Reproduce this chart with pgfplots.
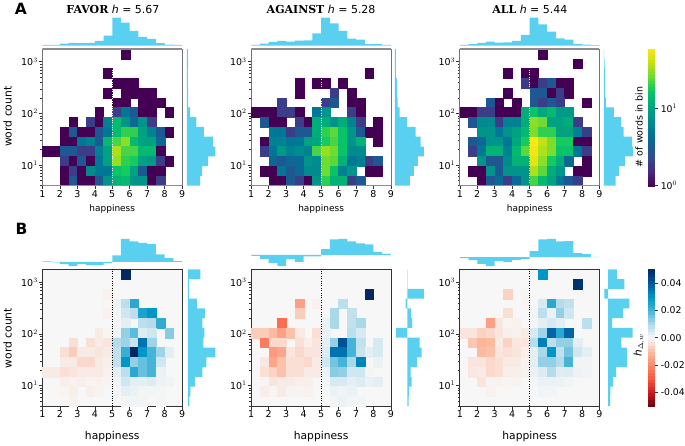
\documentclass[border=0pt]{standalone}
\usepackage{fontspec}
\setmainfont{DejaVu Sans}
\newfontfamily\serf{DejaVu Serif}
\usepackage{pgfplots}
\usepackage{pgfplotstable}
\pgfplotsset{compat=1.18}
\definecolor{hc}{RGB}{90,208,240}
\definecolor{bgc}{RGB}{247,247,247}
\pgfplotsset{
  /pgfplots/heatpanel/.style={scale only axis, width=140pt, height=137pt, anchor=south west,
    xmin=1, xmax=9, ymin=0, ymax=14,
    xtick={1,2,3,4,5,6,7,8,9}, xticklabels={1,2,3,4,5,6,7,8,9},
    ytick={2.113,7.396,12.679}, yticklabels={10$^{1}$,10$^{2}$,10$^{3}$},
    minor ytick={0.01,0.523,0.941,1.296,1.601,1.870,3.703,4.633,5.293,5.806,6.224,6.579,6.884,7.153,8.986,9.916,10.576,11.089,11.507,11.862,12.167,12.436},
    xtick pos=bottom, ytick pos=left, tick align=outside,
    major tick length=3.5pt, minor tick length=2pt,
    tick style={black!80, line width=0.6pt},
    minor tick style={black!80, line width=0.4pt},
    ticklabel style={font=\fontsize{9.5}{11}\selectfont, inner sep=1pt},
    axis on top},
  /pgfplots/mhist/.style={scale only axis, anchor=south west, hide axis},
  /pgfplots/cellmark/.style={scatter, only marks, mark=square*, mark size=1pt, scatter/use mapped color={draw=mapped color,fill=mapped color}, mark options={xscale=4.375, yscale=4.893, line width=0.15pt}},
}
\pgfplotsset{
  colormap={vw}{rgb255=(68,1,84) rgb255=(72,40,125) rgb255=(55,70,140) rgb255=(20,95,150) rgb255=(0,120,150) rgb255=(0,145,140) rgb255=(0,170,125) rgb255=(10,200,100) rgb255=(110,220,50) rgb255=(190,225,20) rgb255=(253,231,20)}}
\pgfplotsset{
  colormap={dv}{rgb255=(103,0,13) rgb255=(203,24,29) rgb255=(250,85,60) rgb255=(251,133,103) rgb255=(252,187,161) rgb255=(247,247,247) rgb255=(180,220,235) rgb255=(70,180,215) rgb255=(0,150,200) rgb255=(0,90,160) rgb255=(3,40,100)}}
% heat A: #1 x, #2 table
\newcommand\heatA[2]{%
\begin{axis}[heatpanel, at={(#1pt,260pt)}, colormap name=vw, point meta min=0, point meta max=1.7634,
  axis line style={black!55, line width=0.7pt}]
\addplot[cellmark, point meta={log10(\thisrow{v})}] table[x=x, y=y] {#2};
\end{axis}
\begin{axis}[mhist, at={(#1pt,260pt)}, width=140pt, height=137pt, xmin=1, xmax=9, ymin=0, ymax=14]
\addplot[white, dash pattern=on 1pt off 1.4pt, line width=1pt] coordinates {(5,0) (5,14)};
\draw[black!45, line width=1.4pt] (rel axis cs:0,0) -- (rel axis cs:1,0);
\draw[black!45, line width=1.4pt] (rel axis cs:0,1) -- (rel axis cs:1,1);
\end{axis}}
% heat B
\newcommand\heatB[2]{%
\begin{axis}[heatpanel, at={(#1pt,39pt)}, colormap name=dv, point meta min=-50, point meta max=50,
  axis background/.style={fill=bgc}, axis line style={black!80, line width=0.7pt}]
\addplot[cellmark, point meta={\thisrow{v}}] table[x=x, y=y] {#2};
\end{axis}
\begin{axis}[mhist, at={(#1pt,39pt)}, width=140pt, height=137pt, xmin=1, xmax=9, ymin=0, ymax=14]
\addplot[black, dash pattern=on 1pt off 1.4pt, line width=1pt] coordinates {(5,0) (5,14)};
\end{axis}}
% top histogram: x, Y, height, ymin, ymax, coordinates
\newcommand\tophist[6]{%
\begin{axis}[mhist, at={(#1pt,#2pt)}, width=140pt, height=#3pt, xmin=1, xmax=9, ymin=#4, ymax=#5]
\addplot[ybar interval, fill=hc, draw=none] coordinates {#6};
\end{axis}}
% side histogram: x, Y, width, xmin, xmax, coordinates
\newcommand\sidehist[6]{%
\begin{axis}[mhist, at={(#1pt,#2pt)}, width=#3pt, height=137pt, xmin=#4, xmax=#5, ymin=0, ymax=14]
\addplot[xbar interval, fill=hc, draw=none] coordinates {#6};
\end{axis}}

\pgfplotstableread{
x y v
5.75 13.5 1
4.75 11.5 1
5.25 10.5 1
5.75 10.5 1
6.25 10.5 1
4.75 9.5 1
5.75 9.5 1
6.25 9.5 1
6.75 9.5 1
7.25 9.5 1
5.25 8.5 1
5.75 8.5 1
6.75 8.5 1
7.25 8.5 1
7.75 8.5 1
4.25 7.5 1
5.25 7.5 2
5.75 7.5 5
6.25 7.5 3
6.75 7.5 1
7.25 7.5 1
8.25 7.5 1
2.75 6.5 1
3.75 6.5 2
4.25 6.5 1
4.75 6.5 6
5.25 6.5 14
5.75 6.5 8
6.25 6.5 4
6.75 6.5 8
7.25 6.5 2
2.25 5.5 1
2.75 5.5 3
3.25 5.5 1
3.75 5.5 1
4.25 5.5 3
4.75 5.5 5
5.25 5.5 14
5.75 5.5 20
6.25 5.5 20
6.75 5.5 10
7.25 5.5 6
7.75 5.5 3
8.25 5.5 1
2.25 4.5 1
2.75 4.5 1
3.25 4.5 5
3.75 4.5 6
4.25 4.5 3
4.75 4.5 14
5.25 4.5 22
5.75 4.5 30
6.25 4.5 14
6.75 4.5 10
7.25 4.5 10
7.75 4.5 4
1.25 3.5 1
1.75 3.5 1
2.25 3.5 3
2.75 3.5 3
3.25 3.5 2
3.75 3.5 2
4.25 3.5 6
4.75 3.5 10
5.25 3.5 35
5.75 3.5 22
6.25 3.5 22
6.75 3.5 14
7.25 3.5 14
7.75 3.5 1
2.25 2.5 2
2.75 2.5 1
3.25 2.5 3
3.75 2.5 1
4.25 2.5 5
4.75 2.5 10
5.25 2.5 32
5.75 2.5 20
6.25 2.5 18
6.75 2.5 10
7.25 2.5 9
7.75 2.5 2
8.25 2.5 1
2.25 1.5 1
2.75 1.5 2
3.25 1.5 1
3.75 1.5 7
4.25 1.5 5
4.75 1.5 5
5.25 1.5 16
5.75 1.5 18
6.25 1.5 10
6.75 1.5 3
7.25 1.5 1
7.75 1.5 1
2.25 0.5 1
2.75 0.5 3
3.25 0.5 1
3.75 0.5 1
4.25 0.5 3
4.75 0.5 8
5.25 0.5 13
5.75 0.5 14
6.25 0.5 8
6.75 0.5 8
7.25 0.5 1
7.75 0.5 2
}\tFavorA
\pgfplotstableread{
x y v
7.75 11.5 1
3.75 10.5 1
4.75 10.5 1
5.25 10.5 1
6.25 10.5 1
3.75 9.5 1
5.75 9.5 2
6.75 9.5 1
2.75 8.5 2
5.25 8.5 2
5.75 8.5 3
6.75 8.5 1
7.25 8.5 1
1.25 7.5 1
1.75 7.5 1
2.25 7.5 1
2.75 7.5 2
3.25 7.5 2
3.75 7.5 1
4.75 7.5 5
5.25 7.5 8
6.75 7.5 2
7.25 7.5 1
1.75 6.5 3
2.25 6.5 1
2.75 6.5 1
3.75 6.5 2
4.25 6.5 1
4.75 6.5 12
5.25 6.5 12
5.75 6.5 8
6.25 6.5 12
6.75 6.5 6
7.25 6.5 2
8.25 6.5 1
2.25 5.5 5
2.75 5.5 5
3.25 5.5 2
3.75 5.5 3
4.25 5.5 3
4.75 5.5 12
5.25 5.5 20
5.75 5.5 24
6.25 5.5 16
6.75 5.5 8
7.25 5.5 3
7.75 5.5 1
8.25 5.5 1
1.75 4.5 1
2.25 4.5 6
2.75 4.5 6
3.25 4.5 5
3.75 4.5 5
4.25 4.5 10
4.75 4.5 11
5.25 4.5 18
5.75 4.5 22
6.25 4.5 16
6.75 4.5 8
7.25 4.5 13
8.25 4.5 1
1.75 3.5 2
2.25 3.5 5
2.75 3.5 9
3.25 3.5 6
3.75 3.5 7
4.25 3.5 6
4.75 3.5 22
5.25 3.5 32
5.75 3.5 26
6.25 3.5 16
6.75 3.5 7
7.25 3.5 7
2.25 2.5 4
2.75 2.5 3
3.25 2.5 4
3.75 2.5 4
4.25 2.5 8
4.75 2.5 7
5.25 2.5 26
5.75 2.5 24
6.25 2.5 13
6.75 2.5 5
7.25 2.5 6
7.75 2.5 2
8.25 2.5 3
1.75 1.5 1
2.25 1.5 1
2.75 1.5 5
3.25 1.5 3
3.75 1.5 4
4.25 1.5 7
4.75 1.5 7
5.25 1.5 26
5.75 1.5 16
6.25 1.5 6
6.75 1.5 8
7.75 1.5 1
8.25 1.5 1
2.25 0.5 1
2.75 0.5 1
3.25 0.5 3
3.75 0.5 2
4.25 0.5 1
4.75 0.5 8
5.25 0.5 20
5.75 0.5 13
6.25 0.5 13
6.75 0.5 2
7.25 0.5 3
}\tAgainstA
\pgfplotstableread{
x y v
5.75 13.5 1
7.75 12.5 1
3.75 11.5 1
4.75 11.5 1
5.25 11.5 1
4.75 10.5 2
5.25 10.5 1
5.75 10.5 2
6.25 10.5 3
6.75 10.5 1
7.25 10.5 1
3.75 9.5 1
5.25 9.5 3
5.75 9.5 3
6.25 9.5 1
6.75 9.5 2
7.25 9.5 1
2.75 8.5 3
3.25 8.5 1
4.25 8.5 1
5.25 8.5 3
5.75 8.5 2
6.25 8.5 3
6.75 8.5 2
8.25 8.5 1
1.25 7.5 1
1.75 7.5 1
2.25 7.5 2
2.75 7.5 2
3.25 7.5 1
3.75 7.5 1
4.25 7.5 1
4.75 7.5 12
5.25 7.5 16
5.75 7.5 11
6.25 7.5 14
6.75 7.5 9
7.25 7.5 9
1.75 6.5 3
2.25 6.5 7
2.75 6.5 7
3.25 6.5 2
3.75 6.5 6
4.25 6.5 6
4.75 6.5 12
5.25 6.5 30
5.75 6.5 26
6.25 6.5 10
6.75 6.5 10
7.25 6.5 12
7.75 6.5 2
2.25 5.5 8
2.75 5.5 8
3.25 5.5 5
3.75 5.5 8
4.25 5.5 10
4.75 5.5 14
5.25 5.5 28
5.75 5.5 20
6.25 5.5 20
6.75 5.5 10
7.25 5.5 10
7.75 5.5 6
8.25 5.5 2
1.75 4.5 3
2.25 4.5 4
2.75 4.5 8
3.25 4.5 8
3.75 4.5 5
4.25 4.5 11
4.75 4.5 18
5.25 4.5 58
5.75 4.5 40
6.25 4.5 28
6.75 4.5 18
7.25 4.5 18
7.75 4.5 1
8.25 4.5 1
1.75 3.5 2
2.25 3.5 5
2.75 3.5 13
3.25 3.5 13
3.75 3.5 6
4.25 3.5 14
4.75 3.5 24
5.25 3.5 55
5.75 3.5 36
6.25 3.5 28
6.75 3.5 16
7.25 3.5 16
7.75 3.5 5
8.25 3.5 2
2.25 2.5 8
2.75 2.5 3
3.25 2.5 3
3.75 2.5 7
4.25 2.5 13
4.75 2.5 13
5.25 2.5 50
5.75 2.5 30
6.25 2.5 18
6.75 2.5 12
7.25 2.5 4
8.25 2.5 1
1.75 1.5 1
2.25 1.5 1
2.75 1.5 8
3.25 1.5 3
3.75 1.5 8
4.25 1.5 8
4.75 1.5 8
5.25 1.5 36
5.75 1.5 24
6.25 1.5 12
6.75 1.5 8
7.75 1.5 1
8.25 1.5 1
2.25 0.5 1
2.75 0.5 3
3.25 0.5 4
3.75 0.5 2
4.25 0.5 4
4.75 0.5 8
5.25 0.5 22
5.75 0.5 14
6.25 0.5 10
6.75 0.5 5
7.25 0.5 3
7.75 0.5 2
}\tAllA
\pgfplotstableread{
x y v
5.75 13.5 50
4.75 11.5 -1
5.25 10.5 1.5
5.75 10.5 9
6.25 10.5 24
4.75 9.5 -1
5.25 9.5 0.5
5.75 9.5 6
6.25 9.5 9
6.75 9.5 26
7.25 9.5 30
5.25 8.5 0.5
5.75 8.5 3
6.75 8.5 9
7.25 8.5 10
7.75 8.5 23
4.25 7.5 -2
4.75 7.5 -0.5
5.25 7.5 1
5.75 7.5 13
6.25 7.5 18
6.75 7.5 4
7.25 7.5 6
8.25 7.5 14
2.75 6.5 -4
3.75 6.5 -4
4.25 6.5 -2
4.75 6.5 -3
5.25 6.5 10
5.75 6.5 12
6.25 6.5 7
6.75 6.5 36
7.25 6.5 12
2.25 5.5 -4
2.75 5.5 -7
3.25 5.5 -2
3.75 5.5 -2
4.25 5.5 -3
4.75 5.5 -2
5.25 5.5 8
5.75 5.5 22
6.25 5.5 50
6.75 5.5 30
7.25 5.5 20
7.75 5.5 12
8.25 5.5 3
2.25 4.5 -2
2.75 4.5 -2
3.25 4.5 -5
3.75 4.5 -5
4.25 4.5 -2
4.75 4.5 -1.5
5.25 4.5 8
5.75 4.5 30
6.25 4.5 13
6.75 4.5 17
7.25 4.5 20
7.75 4.5 6
1.25 3.5 -2
1.75 3.5 -2
2.25 3.5 -4
2.75 3.5 -3
3.25 3.5 -2
3.75 3.5 -2
4.25 3.5 -2
4.75 3.5 -1
5.25 3.5 3
5.75 3.5 9
6.25 3.5 24
6.75 3.5 17
7.25 3.5 20
7.75 3.5 2
2.25 2.5 -1.5
2.75 2.5 -1
3.25 2.5 -1.5
3.75 2.5 -0.5
4.25 2.5 -1
4.75 2.5 -0.5
5.25 2.5 1
5.75 2.5 6
6.25 2.5 3
6.75 2.5 3
7.25 2.5 4
7.75 2.5 1.5
8.25 2.5 1
2.25 1.5 -0.5
2.75 1.5 -1.5
3.75 1.5 -1.5
4.25 1.5 -0.7
5.25 1.5 0.5
5.75 1.5 3
6.25 1.5 2
6.75 1.5 0.7
7.25 1.5 0.7
7.75 1.5 0.5
2.75 0.5 -1
5.75 0.5 0.7
6.25 0.5 1
6.75 0.5 0.7
7.75 0.5 0.5
}\tFavorB
\pgfplotstableread{
x y v
7.75 11.5 50
3.75 10.5 -15
4.75 10.5 -1
6.25 10.5 9
3.75 9.5 -7
5.75 9.5 11
6.75 9.5 8
2.75 8.5 -25
5.25 8.5 2
5.75 8.5 11
6.75 8.5 8
7.25 8.5 11
1.25 7.5 -7
1.75 7.5 -7
2.25 7.5 -10
2.75 7.5 -15
3.25 7.5 -9
3.75 7.5 -2
4.75 7.5 -4
5.25 7.5 2
6.75 7.5 9
7.25 7.5 5
1.75 6.5 -22
2.25 6.5 -5
2.75 6.5 -5
3.75 6.5 -4
4.25 6.5 -1.5
4.75 6.5 -3
5.25 6.5 3
5.75 6.5 13
6.25 6.5 42
6.75 6.5 20
7.25 6.5 8
8.25 6.5 5
2.25 5.5 -16
2.75 5.5 -14
3.25 5.5 -3
3.75 5.5 -5
4.25 5.5 -3
4.75 5.5 -3
5.25 5.5 4
5.75 5.5 36
6.25 5.5 36
6.75 5.5 20
7.25 5.5 7
7.75 5.5 3
8.25 5.5 5
1.75 4.5 -2.5
2.25 4.5 -14
2.75 4.5 -9
3.25 4.5 -4
3.75 4.5 -4
4.25 4.5 -5
4.75 4.5 -2
5.25 4.5 6
5.75 4.5 16
6.25 4.5 20
6.75 4.5 11
7.25 4.5 33
8.25 4.5 2
1.75 3.5 -4
2.25 3.5 -6
2.75 3.5 -9
3.25 3.5 -4
3.75 3.5 -4
4.25 3.5 -2
4.75 3.5 -2
5.25 3.5 1.5
5.75 3.5 14
6.25 3.5 13
6.75 3.5 6
7.25 3.5 6
7.75 3.5 0.5
1.75 2.5 -0.5
2.25 2.5 -3
2.75 2.5 -2
3.25 2.5 -2
3.75 2.5 -1.5
4.25 2.5 -1.5
5.25 2.5 0.5
5.75 2.5 5
6.25 2.5 5
6.75 2.5 3
7.25 2.5 4
7.75 2.5 2
8.25 2.5 3
1.75 1.5 -1.5
2.25 1.5 -0.5
2.75 1.5 -2
3.25 1.5 -0.7
3.75 1.5 -0.7
4.25 1.5 -1
5.75 1.5 2
6.25 1.5 1
6.75 1.5 2
5.75 0.5 0.7
6.25 0.5 2
6.75 0.5 0.7
7.25 0.5 0.7
}\tAgainstB
\pgfplotstableread{
x y v
5.75 13.5 30
7.75 12.5 48
3.75 11.5 -6
4.75 11.5 -0.5
4.75 10.5 -0.5
5.75 10.5 5
6.25 10.5 24
6.75 10.5 10
7.25 10.5 8
3.75 9.5 -4
5.25 9.5 1
5.75 9.5 9
6.25 9.5 2
6.75 9.5 13
7.25 9.5 6
2.75 8.5 -15
3.25 8.5 -3
3.75 8.5 -0.5
4.25 8.5 -1
5.25 8.5 0.5
5.75 8.5 3
6.25 8.5 5
6.75 8.5 3
8.25 8.5 9
1.25 7.5 -3
1.75 7.5 -3
2.25 7.5 -6
2.75 7.5 -5
3.25 7.5 -3
3.75 7.5 -1.5
4.25 7.5 -0.8
4.75 7.5 -2
5.25 7.5 5
5.75 7.5 12
6.25 7.5 38
6.75 7.5 24
7.25 7.5 38
1.75 6.5 -8
2.25 6.5 -11
2.75 6.5 -10
3.25 6.5 -2
3.75 6.5 -6
4.25 6.5 -2.5
4.75 6.5 -3
5.25 6.5 10
5.75 6.5 34
6.25 6.5 9
6.75 6.5 13
7.25 6.5 13
7.75 6.5 3
2.25 5.5 -10
2.75 5.5 -9
3.25 5.5 -3
3.75 5.5 -4
4.25 5.5 -3
4.75 5.5 -1.5
5.25 5.5 3
5.75 5.5 11
6.25 5.5 30
6.75 5.5 8
7.25 5.5 16
7.75 5.5 6
8.25 5.5 3
1.75 4.5 -3
2.25 4.5 -3
2.75 4.5 -5
3.25 4.5 -4
3.75 4.5 -2
4.25 4.5 -2
4.75 4.5 -1
5.25 4.5 3
5.75 4.5 13
6.25 4.5 13
6.75 4.5 10
7.25 4.5 20
7.75 4.5 1
8.25 4.5 1
1.75 3.5 -2.5
2.25 3.5 -2
2.75 3.5 -5
3.25 3.5 -4
3.75 3.5 -1.5
4.25 3.5 -1.5
4.75 3.5 -1
5.25 3.5 2
5.75 3.5 4
6.25 3.5 10
6.75 3.5 3.5
7.25 3.5 4
7.75 3.5 1.5
8.25 3.5 1
2.25 2.5 -3
2.75 2.5 -0.7
3.25 2.5 -0.7
3.75 2.5 -0.5
4.25 2.5 -0.7
5.25 2.5 0.5
5.75 2.5 2
6.25 2.5 2
6.75 2.5 1.5
7.25 2.5 0.7
2.75 1.5 -1
5.75 1.5 1
6.25 1.5 0.8
}\tAllB

\begin{document}
\begin{tikzpicture}
\path (0pt,0pt) rectangle (685pt,445pt);
% Row A heat maps
\heatA{41}{\tFavorA}
\heatA{250.3}{\tAgainstA}
\heatA{459.3}{\tAllA}
% Row B heat maps
\heatB{41}{\tFavorB}
\heatB{250.3}{\tAgainstB}
\heatB{459.3}{\tAllB}
% Top histograms A
\tophist{41}{400.3}{28}{0}{84}{(1,2)(1.5,2)(2,6)(2.5,8)(3,7)(3.5,8)(4,14)(4.5,30)(5,84)(5.5,69)(6,44)(6.5,26)(7,20)(7.5,7)(8,3)(8.5,2)(9,0)}
\tophist{250.3}{400.3}{28}{0}{84}{(1,2)(1.5,6)(2,11)(2.5,14)(3,12)(3.5,15)(4,16)(4.5,37)(5,84)(5.5,67)(6,44)(6.5,21)(7,18)(7.5,4)(8,5)(8.5,2)(9,0)}
\tophist{459.3}{400.3}{28}{0}{84}{(1,2)(1.5,4)(2,8)(2.5,12)(3,9)(3.5,10)(4,14)(4.5,32)(5,84)(5.5,64)(6,42)(6.5,22)(7,18)(7.5,5)(8,3)(8.5,1)(9,0)}
% Side histograms A
\sidehist{185.7}{260}{29}{0}{87}{(40,0)(46,1)(64,2)(86,3)(78,4)(51,5)(29,6)(10,7)(4,8)(4,9)(3,10)(3,11)(4,12)(3,13)(0,14)}
\sidehist{394.3}{260}{29}{0}{87}{(45,0)(57,1)(69,2)(87,3)(77,4)(62,5)(36,6)(14,7)(8,8)(6,9)(6,10)(3,11)(3,12)(3,13)(0,14)}
\sidehist{603.7}{260}{29}{0}{87}{(35,0)(46,1)(63,2)(87,3)(85,4)(59,5)(52,6)(30,7)(6,8)(4,9)(4,10)(3,11)(2,12)(1,13)(0,14)}
% Top histograms B
\tophist{41}{179.3}{27.33}{-13}{69}{(1,1)(1.5,-2)(2,-7)(2.5,-13)(3,-7)(3.5,-10)(4,-9)(4.5,-4)(5,19)(5.5,69)(6,61)(6.5,57)(7,53)(7.5,22)(8,11)(8.5,2)(9,0)}
\tophist{250.3}{179.3}{27.33}{-34}{48}{(1,-3)(1.5,-12)(2,-24)(2.5,-34)(3,-13)(3.5,-21)(4,-5)(4.5,-5)(5,17)(5.5,46)(6,48)(6.5,40)(7,34)(7.5,31)(8,9)(8.5,3)(9,0)}
\tophist{459.3}{179.3}{27.33}{-27}{55}{(1,-3)(1.5,-9)(2,-20)(2.5,-27)(3,-12)(3.5,-15)(4,-8)(4.5,-5)(5,18)(5.5,53)(6,55)(6.5,47)(7,48)(7.5,12)(8,9)(8.5,1)(9,0)}
% Side histograms B
\sidehist{186.7}{39}{27.67}{0}{83}{(5,0)(8,1)(22,2)(44,3)(56,4)(83,5)(47,6)(50,7)(44,8)(51,9)(27,10)(3,11)(3,12)(38,13)(0,14)}
\sidehist{395.3}{39}{28}{-34}{50}{(4,0)(5,1)(13,2)(10,3)(29,4)(43,5)(37,6)(-34,7)(15,8)(12,9)(-5,10)(50,11)(1,12)(1,13)(0,14)}
\sidehist{604.3}{39}{28.33}{-11}{74}{(6,0)(7,1)(15,2)(24,3)(57,4)(56,5)(40,6)(74,7)(12,8)(45,9)(64,10)(-11,11)(49,12)(26,13)(0,14)}
% Colour bars
\begin{axis}[scale only axis, anchor=south west, at={(648.3pt,260pt)}, width=5.7pt, height=137pt,
  xmin=0, xmax=1, ymin=0, ymax=1.7634, xtick=\empty, ytick={0,1},
  colormap name=vw, point meta min=0, point meta max=1.7634,
  yticklabels={10$^{0}$,10$^{1}$}, ytick pos=right, yticklabel pos=right,
  tick align=outside, major tick length=4pt, tick style={black!80, line width=0.6pt},
  ticklabel style={font=\fontsize{9.3}{11}\selectfont, inner sep=0pt, xshift=2.5pt}, axis line style={black!80, line width=0.6pt}, axis on top]
\addplot[scatter, only marks, mark=square*, mark size=1pt, scatter/use mapped color={draw=mapped color,fill=mapped color}, mark options={xscale=3, yscale=1.7, line width=0.15pt}, point meta=y] coordinates {
(0.5,0.02)(0.5,0.06)(0.5,0.10)(0.5,0.14)(0.5,0.18)(0.5,0.22)(0.5,0.26)(0.5,0.30)(0.5,0.34)(0.5,0.38)(0.5,0.42)(0.5,0.46)(0.5,0.50)(0.5,0.54)(0.5,0.58)
(0.5,0.62)(0.5,0.66)(0.5,0.70)(0.5,0.74)(0.5,0.78)(0.5,0.82)(0.5,0.86)(0.5,0.90)(0.5,0.94)(0.5,0.98)(0.5,1.02)(0.5,1.06)(0.5,1.10)(0.5,1.14)(0.5,1.18)
(0.5,1.22)(0.5,1.26)(0.5,1.30)(0.5,1.34)(0.5,1.38)(0.5,1.42)(0.5,1.46)(0.5,1.50)(0.5,1.54)(0.5,1.58)(0.5,1.62)(0.5,1.66)(0.5,1.70)(0.5,1.74)};
\end{axis}
\begin{axis}[scale only axis, anchor=south west, at={(648.3pt,39pt)}, width=5.7pt, height=137pt,
  xmin=0, xmax=1, ymin=-0.05, ymax=0.05, xtick=\empty, ytick={-0.04,-0.02,0,0.02,0.04}, scaled y ticks=false,
  colormap name=dv, point meta min=-0.05, point meta max=0.05,
  yticklabels={-0.04,-0.02,0.00,0.02,0.04}, ytick pos=right, yticklabel pos=right,
  tick align=outside, major tick length=4pt, tick style={black!80, line width=0.6pt},
  ticklabel style={font=\fontsize{9.3}{11}\selectfont, inner sep=0pt, xshift=2.5pt}, axis line style={black!80, line width=0.6pt}, axis on top]
\addplot[scatter, only marks, mark=square*, mark size=1pt, scatter/use mapped color={draw=mapped color,fill=mapped color}, mark options={xscale=3, yscale=1.85, line width=0.15pt}, point meta=y] coordinates {
(0.5,-0.04875)(0.5,-0.04625)(0.5,-0.04375)(0.5,-0.04125)(0.5,-0.03875)(0.5,-0.03625)(0.5,-0.03375)(0.5,-0.03125)(0.5,-0.02875)(0.5,-0.02625)
(0.5,-0.02375)(0.5,-0.02125)(0.5,-0.01875)(0.5,-0.01625)(0.5,-0.01375)(0.5,-0.01125)(0.5,-0.00875)(0.5,-0.00625)(0.5,-0.00375)(0.5,-0.00125)
(0.5,0.00125)(0.5,0.00375)(0.5,0.00625)(0.5,0.00875)(0.5,0.01125)(0.5,0.01375)(0.5,0.01625)(0.5,0.01875)(0.5,0.02125)(0.5,0.02375)
(0.5,0.02625)(0.5,0.02875)(0.5,0.03125)(0.5,0.03375)(0.5,0.03625)(0.5,0.03875)(0.5,0.04125)(0.5,0.04375)(0.5,0.04625)(0.5,0.04875)};
\end{axis}
% Text
\node[font=\fontsize{15.5}{18}\selectfont\bfseries] at (19.5pt,437pt) {A};
\node[font=\fontsize{15.5}{18}\selectfont\bfseries] at (20pt,217pt) {B};
\node[font=\fontsize{11}{13}\selectfont] at (111.7pt,437pt) {{\serf\bfseries FAVOR} \textit{h} = 5.67};
\node[font=\fontsize{11}{13}\selectfont] at (320.3pt,437pt) {{\serf\bfseries AGAINST} \textit{h} = 5.28};
\node[font=\fontsize{11}{13}\selectfont] at (529.5pt,437pt) {{\serf\bfseries ALL} \textit{h} = 5.44};
\node[font=\fontsize{9}{11}\selectfont] at (111pt,236.5pt) {happiness};
\node[font=\fontsize{9}{11}\selectfont] at (320.3pt,236.5pt) {happiness};
\node[font=\fontsize{9}{11}\selectfont] at (529.3pt,236.5pt) {happiness};
\node[font=\fontsize{10.75}{13}\selectfont] at (111pt,8pt) {happiness};
\node[font=\fontsize{10.75}{13}\selectfont] at (320.3pt,8pt) {happiness};
\node[font=\fontsize{10.75}{13}\selectfont] at (529.3pt,8pt) {happiness};
\node[rotate=90, font=\fontsize{10.8}{13}\selectfont] at (6pt,329pt) {word count};
\node[rotate=90, font=\fontsize{10.8}{13}\selectfont] at (6pt,107pt) {word count};
\node[rotate=90, font=\fontsize{9.5}{11}\selectfont] at (639pt,319pt) {\# of words in bin};
\node[rotate=90, font=\fontsize{10.5}{12}\selectfont] at (639pt,100pt) {\textit{h}$_{\Delta,w}$};
\end{tikzpicture}
\end{document}
